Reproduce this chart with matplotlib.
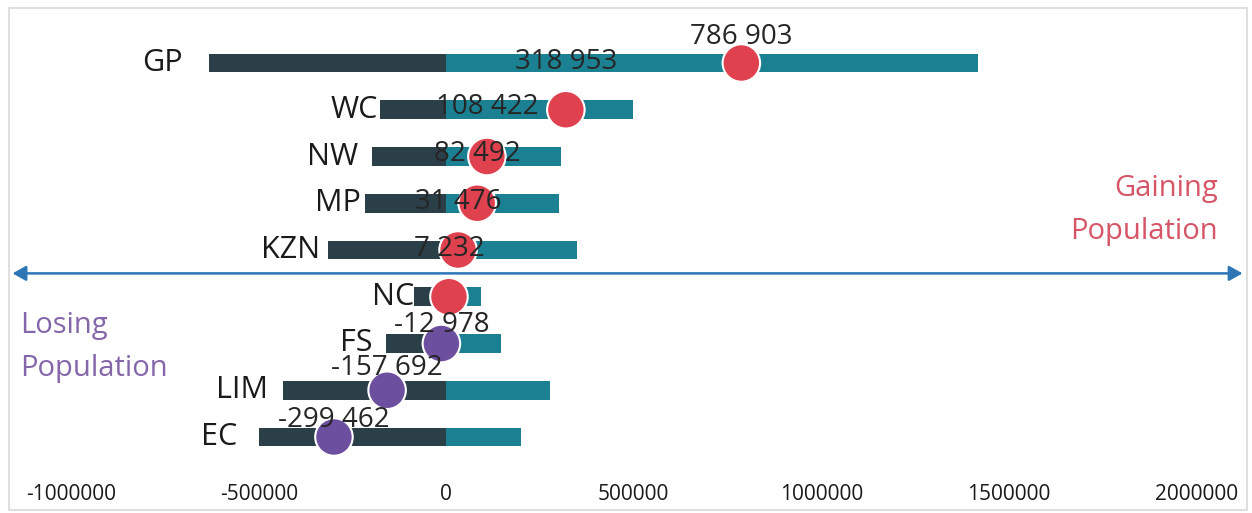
import matplotlib
matplotlib.use("Agg")
import matplotlib.pyplot as plt
from matplotlib.patches import Rectangle

# Inter-provincial migration: people leaving (out), arriving (in) and the net result
provinces = ["GP", "WC", "NW", "MP", "KZN", "NC", "FS", "LIM", "EC"]
out_migrants = [632000, 178000, 197000, 217000, 316000, 86000, 160000, 435000, 500000]
in_migrants = [1418903, 496953, 305422, 299492, 347476, 93232, 147022, 277308, 200538]
net_migration = [786903, 318953, 108422, 82492, 31476, 7232, -12978, -157692, -299462]
x_ticks = [-1000000, -500000, 0, 500000, 1000000, 1500000, 2000000]

# styling
FONT = "Open Sans"
DARK = "#2a3f48"
TEAL = "#1b8192"
GAIN = "#e0414f"
LOSS = "#6c4f9e"
ARROW = "#2e75b6"
GAIN_TXT = "#d65566"
LOSS_TXT = "#8466aa"
label_gap_px = [26, 2, 14, 4, 8, 0, 14, 15, 22]
value_offset_px = [26, 48, 50, 49, 48, 48, 18, 22, 17]

plt.rcParams["font.family"] = [FONT, "DejaVu Sans"]

W, H = 1252, 513
fig = plt.figure(figsize=(W / 100, H / 100), dpi=100)
fig.patch.set_facecolor("white")

# light frame round the chart
fig.add_artist(Rectangle((9 / W, 3 / H), 1238 / W, 502 / H, transform=fig.transFigure,
                         fill=False, edgecolor="#d9d9d9", linewidth=1.2))

ax = fig.add_axes([15 / W, 43 / H, 1230 / W, 455 / H])
ax.set_xlim(-1150000, 2130000)
ax.set_ylim(8.706, -1.027)
for s in ax.spines.values():
    s.set_visible(False)
ax.set_yticks([])
ax.set_xticks(x_ticks)
ax.set_xticklabels([str(t) for t in x_ticks], fontsize=15, color="#1a1a1a")
ax.tick_params(axis="x", length=0, pad=10)

ypos = list(range(len(provinces)))
neg_out = [-v for v in out_migrants]
ax.barh(ypos, neg_out, height=0.40, color=DARK, zorder=2)
ax.barh(ypos, in_migrants, height=0.40, color=TEAL, zorder=2)

# net migration markers
colors = [GAIN if v >= 0 else LOSS for v in net_migration]
ax.scatter(net_migration, ypos, s=730, c=colors, edgecolors="white", linewidths=1.5, zorder=4)

# province names to the left of each bar
for y, name, start, gap in zip(ypos, provinces, neg_out, label_gap_px):
    ax.annotate(name, (start, y), xytext=(-gap, 0), textcoords="offset pixels",
                ha="right", va="center", fontsize=22, color="#1a1a1a", zorder=5)

# net values above the markers
for y, v, off in zip(ypos, net_migration, value_offset_px):
    ax.annotate(f"{v:,}".replace(",", " "), (v, y), xytext=(0, off), textcoords="offset pixels",
                ha="center", va="center", fontsize=20, color="#262626", zorder=6)

# dividing arrow between gaining and losing provinces
ax.annotate("", xy=(0.998, 4.5), xytext=(-0.002, 4.5),
            xycoords=("axes fraction", "data"), textcoords=("axes fraction", "data"),
            arrowprops=dict(arrowstyle="<|-|>,head_length=0.8,head_width=0.45",
                            color=ARROW, lw=1.8, shrinkA=0, shrinkB=0), zorder=3)

ax.text(1218 / W, 1 - 210 / H, "Gaining\nPopulation", transform=fig.transFigure,
        ha="right", va="center", fontsize=21, color=GAIN_TXT, linespacing=1.6)
ax.text(20 / W, 1 - 347 / H, "Losing\nPopulation", transform=fig.transFigure,
        ha="left", va="center", fontsize=21, color=LOSS_TXT, linespacing=1.6)

fig.savefig("out.png", dpi=100, facecolor="white")
